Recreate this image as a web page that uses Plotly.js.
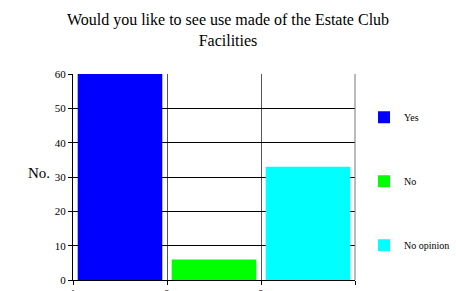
<!DOCTYPE html>
<html>
<head>
<meta charset="utf-8">
<script src="https://cdn.plot.ly/plotly-3.0.1.min.js"></script>
<style>html,body{margin:0;padding:0;background:#fff;}#chart{width:456px;height:291px;}</style>
</head>
<body>
<div id="chart"></div>
<script>
var categories = ["Yes", "No", "No opinion"];
var values = [60, 6, 33];
var colors = ["#0000ff", "#00ff00", "#00ffff"];
var xTickVals = [1, 2, 3, 4];
var xTickLabels = ["1", "2", "3", ""];
var yTickVals = [0, 10, 20, 30, 40, 50, 60];

var FONT = "Liberation Serif";

var traces = categories.map(function (c, i) {
  return {
    type: "bar",
    name: c,
    x: [xTickVals[i] + 0.5],
    y: [values[i]],
    width: 0.9,
    marker: {color: colors[i], line: {width: 0}},
    legendgroup: "g" + i,
    hoverinfo: "skip"
  };
});

var layout = {
  width: 456, height: 291,
  margin: {l: 73, r: 101, t: 74, b: 11, autoexpand: false},
  paper_bgcolor: "#fff", plot_bgcolor: "#fff",
  barmode: "overlay",
  font: {family: FONT, color: "#000", size: 10},
  title: {
    text: "Would you like to see use made of the Estate Club<br>Facilities",
    font: {family: FONT, size: 16, color: "#000"},
    xref: "container", x: 0.5, xanchor: "center",
    yref: "container", y: 0.915, yanchor: "top"
  },
  xaxis: {
    range: [1, 4], tickvals: xTickVals, ticktext: xTickLabels,
    showgrid: true, gridcolor: "#555", gridwidth: 1,
    showline: true, linecolor: "#000", linewidth: 1,
    ticks: "outside", ticklen: 4, tickcolor: "#000",
    zeroline: false, fixedrange: true, automargin: false,
    tickfont: {family: FONT, size: 10, color: "#000"}
  },
  yaxis: {
    range: [0, 60], tickvals: yTickVals,
    showgrid: true, gridcolor: "#000", gridwidth: 1,
    showline: true, linecolor: "#000", linewidth: 1,
    ticks: "outside", ticklen: 4, tickcolor: "#000",
    zeroline: false, fixedrange: true, automargin: false,
    tickfont: {family: FONT, size: 11, color: "#000"}
  },
  shapes: [{type: "line", xref: "paper", yref: "paper", x0: 1, x1: 1, y0: 0, y1: 1, line: {color: "#777", width: 1}}],
  annotations: [{
    text: "No.", xref: "paper", yref: "paper", x: -0.167, y: 0.52,
    showarrow: false, font: {family: FONT, size: 15, color: "#000"}
  }],
  showlegend: true,
  legend: {
    x: 1.032, y: 0.86, xanchor: "left", yanchor: "top",
    traceorder: "grouped", tracegroupgap: 45,
    font: {family: FONT, size: 10, color: "#000"},
    bgcolor: "rgba(0,0,0,0)", itemwidth: 30
  }
};

Plotly.newPlot("chart", traces, layout, {staticPlot: true, displayModeBar: false});
</script>
</body>
</html>
